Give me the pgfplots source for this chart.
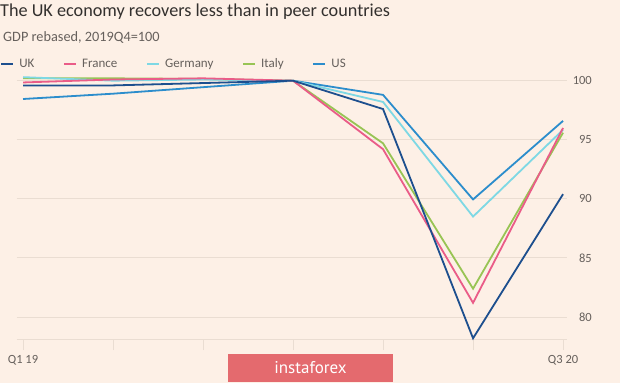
\documentclass[border=0pt]{standalone}
\usepackage{fontspec}
\setmainfont{Carlito}
\newfontfamily\wmfont{PT Sans}
\usepackage{pgfplots}
\pgfplotsset{compat=1.18}
\definecolor{bg}{HTML}{FDF0E6}
\definecolor{gridc}{HTML}{EADDD2}
\definecolor{txt}{HTML}{33302E}
\definecolor{sub}{HTML}{66605C}
\definecolor{cUK}{HTML}{1D4F8E}
\definecolor{cFR}{HTML}{EA5C88}
\definecolor{cDE}{HTML}{7ED8E4}
\definecolor{cIT}{HTML}{98C454}
\definecolor{cUS}{HTML}{2C8DCC}
\definecolor{wm}{HTML}{E46A6E}
\begin{document}
\begin{tikzpicture}[x=1pt,y=1pt]
\fill[bg] (0,0) rectangle (620,383);
\node[anchor=base west, inner sep=0pt, text=txt, font=\fontsize{18.2}{21}\selectfont] at (0,366) {The UK economy recovers less than in peer countries};
\node[anchor=base west, inner sep=0pt, text=sub, font=\fontsize{14.3}{16}\selectfont] at (3,341) {GDP rebased, 2019Q4=100};
\begin{axis}[
  at={(17pt,44pt)}, anchor=south west,
  scale only axis, width=550pt, height=265.4pt,
  xmin=-0.067, xmax=6.044, ymin=78.14, ymax=100.6,
  axis line style={draw=none},
  axis x line*=bottom,
  x axis line style={draw=gridc, line width=1pt},
  ymajorgrids, grid style={gridc, line width=1pt},
  ytick={80,85,90,95,100},
  yticklabel pos=right,
  xtick={0,1,2,3,4,5,6},
  xticklabels={Q1 19,,,,,,Q3 20},
  tick align=outside,
  major tick length=11pt,
  xtick style={draw=gridc, line width=1pt},
  ytick style={draw=none},
  tick label style={font=\fontsize{12.5}{14}\selectfont, text=sub},
  /pgf/number format/assume math mode=true,
  yticklabel style={anchor=east, inner sep=0pt, xshift=14pt},
  xticklabel style={anchor=north, inner sep=0pt, yshift=-5pt},
  clip=false,
  legend columns=5,
  reverse legend,
  legend style={draw=none, fill=none, at={(-17pt,275pt)}, anchor=west,
    font=\fontsize{13}{15}\selectfont, text=sub,
    /tikz/every odd column/.append style={column sep=3pt},
    /tikz/every even column/.append style={column sep=26.5pt},
    inner sep=0pt},
  legend image code/.code={\draw[line width=2.2pt] (0pt,0pt) -- (12pt,0pt);},
  every axis plot/.append style={line width=1.8pt, line join=miter},
]
\addplot[cUS] coordinates {(0,98.45) (1,98.9) (2,99.45) (3,100) (4,98.8) (5,89.95) (6,96.6)};
\addlegendentry{US}
\addplot[cIT] coordinates {(0,100.2) (1,100.2) (2,100.15) (3,100) (4,94.7) (5,82.4) (6,95.6)};
\addlegendentry{Italy}
\addplot[cDE] coordinates {(0,100.3) (1,100.0) (2,100.1) (3,100) (4,98.2) (5,88.5) (6,95.85)};
\addlegendentry{Germany}
\addplot[cFR] coordinates {(0,99.85) (1,100.1) (2,100.2) (3,100) (4,94.2) (5,81.2) (6,96.0)};
\addlegendentry{France}
\addplot[cUK] coordinates {(0,99.6) (1,99.6) (2,99.8) (3,100) (4,97.6) (5,78.2) (6,90.4)};
\addlegendentry{UK}
\end{axis}
\fill[wm] (228,1) rectangle (393,29);
\node[text=white, font=\wmfont\fontsize{17}{20}\selectfont, inner sep=0pt] at (310.5,15.5) {instaforex};
\end{tikzpicture}
\end{document}
